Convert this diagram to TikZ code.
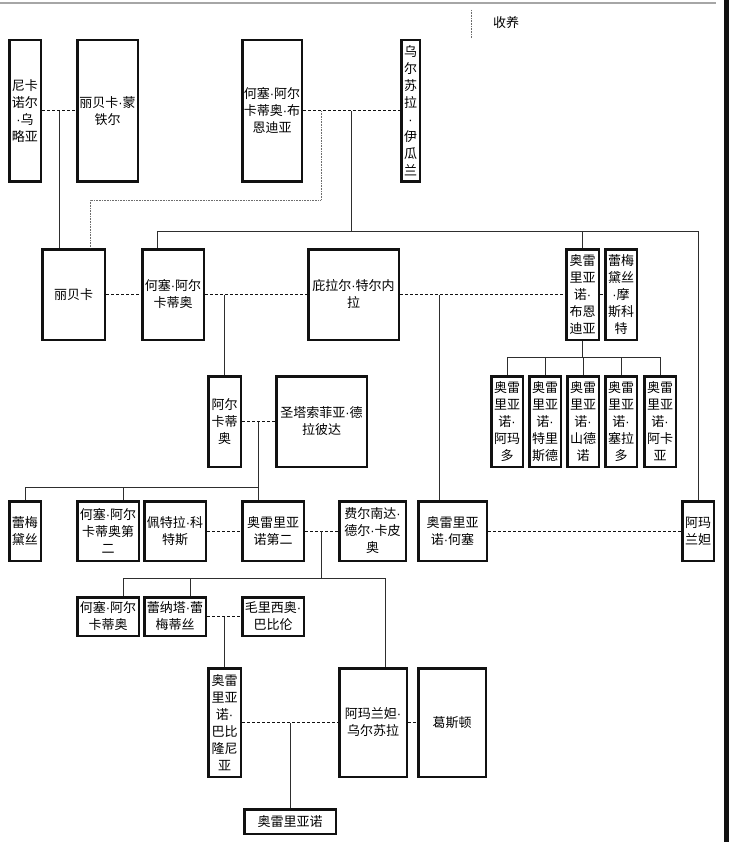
\documentclass[tikz,border=0pt]{standalone}
\usepackage{fontspec}
\newfontfamily\cjk{Noto Sans CJK SC}
\newfontfamily\dotfont{Liberation Sans}
\newcommand\ndot{{\dotfont ·}}
\usepackage{tikz}
\usetikzlibrary{positioning,calc}
\definecolor{ink}{HTML}{111111}
\definecolor{wire}{HTML}{2E2E2E}
\definecolor{rulegray}{HTML}{A6A6A6}
\tikzset{person/.style={draw=ink,line width=2.5pt,align=center,inner sep=0pt,font=\cjk\fontsize{13}{17}\selectfont},kin/.style={draw=wire,line width=1pt},wed/.style={draw=ink,line width=1pt,dash pattern=on 3pt off 2pt},adopt/.style={draw=wire!70,line width=0.9pt,dash pattern=on 0.8pt off 0.8pt},note/.style={font=\cjk\fontsize{13}{17}\selectfont,inner sep=0pt}}
\begin{document}
\begin{tikzpicture}[x=1pt,y=-1pt]
\useasboundingbox (0,0) rectangle (729,842);
\draw[rulegray,line width=1.2pt] (0,3) -- (716,3);
\fill[ink] (724,0) rectangle (729,842);
% legend
\node[note] (key) at (506,23) {收养};
\coordinate (keya) at (471,10);
\coordinate (keyb) at (471,38);
\draw[adopt] (keya) -- (keyb);
% first generation
\node[person,minimum width=31.5pt,minimum height=141.5pt] (nik) at (25,111) {尼卡\\诺尔\\\ndot 乌\\略亚};
\node[person,minimum width=60.5pt,minimum height=141.5pt,right=34pt of nik] (rebm) {丽贝卡\ndot 蒙\\铁尔};
\node[person,minimum width=59.5pt,minimum height=141.5pt] (jab) at (272,111) {何塞\ndot 阿尔\\卡蒂奥\ndot 布\\恩迪亚};
\node[person,minimum width=18.5pt,minimum height=141.5pt,right=97pt of jab] (urs) {乌\\尔\\苏\\拉\\\ndot\\伊\\瓜\\兰};
% second generation
\node[person,minimum width=62.5pt,minimum height=90.5pt] (reb) at (73.5,294.5) {丽贝卡};
\node[person,minimum width=61.5pt,minimum height=90.5pt,right=35pt of reb] (ja) {何塞\ndot 阿尔\\卡蒂奥};
\node[person,minimum width=90.5pt,minimum height=90.5pt] (pil) at (353.5,294.5) {庇拉尔\ndot 特尔内\\拉};
\node[person,minimum width=32.5pt,minimum height=90.5pt] (aur) at (582.5,294.5) {奥雷\\里亚\\诺\ndot\\布恩\\迪亚};
\node[person,minimum width=31.5pt,minimum height=90.5pt,right=4pt of aur] (rem) {蕾梅\\黛丝\\\ndot 摩\\斯科\\特};
% third generation
\node[person,minimum width=32.5pt,minimum height=90.5pt] (arc) at (224.5,421.5) {阿尔\\卡蒂\\奥};
\node[person,minimum width=90.5pt,minimum height=90.5pt,right=33pt of arc] (sta) {圣塔索菲亚\ndot 德\\拉彼达};
\node[person,minimum width=31.5pt,minimum height=90.5pt] (son1) at (507,421.5) {奥雷\\里亚\\诺\ndot\\阿玛\\多};
\node[person,minimum width=31.5pt,minimum height=90.5pt,right=4pt of son1] (son2) {奥雷\\里亚\\诺\ndot\\特里\\斯德};
\node[person,minimum width=31.5pt,minimum height=90.5pt,right=4pt of son2] (son3) {奥雷\\里亚\\诺\ndot\\山德\\诺};
\node[person,minimum width=31.5pt,minimum height=90.5pt,right=4pt of son3] (son4) {奥雷\\里亚\\诺\ndot\\塞拉\\多};
\node[person,minimum width=31.5pt,minimum height=90.5pt,right=5pt of son4] (son5) {奥雷\\里亚\\诺\ndot\\阿卡\\亚};
% fourth generation
\node[person,minimum width=31.5pt,minimum height=59.5pt] (rem2) at (25,531) {蕾梅\\黛丝};
\node[person,minimum width=61.5pt,minimum height=59.5pt] (jas2) at (108,531) {何塞\ndot 阿尔\\卡蒂奥第\\二};
\node[person,minimum width=61.5pt,minimum height=59.5pt,right=3pt of jas2] (pet) {佩特拉\ndot 科\\特斯};
\node[person,minimum width=61.5pt,minimum height=59.5pt] (aur2) at (273,531) {奥雷里亚\\诺第二};
\node[person,minimum width=66.5pt,minimum height=59.5pt,right=33pt of aur2] (fer) {费尔南达\ndot\\德尔\ndot 卡皮\\奥};
\node[person,minimum width=68.5pt,minimum height=59.5pt,right=10pt of fer] (aurj) {奥雷里亚\\诺\ndot 何塞};
\node[person,minimum width=31.5pt,minimum height=59.5pt] (ama) at (698,531) {阿玛\\兰妲};
% fifth generation
\node[person,minimum width=61.5pt,minimum height=38.5pt] (ja3) at (108,616.5) {何塞\ndot 阿尔\\卡蒂奥};
\node[person,minimum width=61.5pt,minimum height=38.5pt,right=3pt of ja3] (ren) {蕾纳塔\ndot 蕾\\梅蒂丝};
\node[person,minimum width=61.5pt,minimum height=38.5pt] (mau) at (273,616.5) {毛里西奥\ndot\\巴比伦};
% sixth generation
\node[person,minimum width=32.5pt,minimum height=108.5pt] (aurb) at (224.5,722.5) {奥雷\\里亚\\诺\ndot\\巴比\\隆尼\\亚};
\node[person,minimum width=67.5pt,minimum height=108.5pt] (amu) at (373,722.5) {阿玛兰妲\ndot\\乌尔苏拉};
\node[person,minimum width=67.5pt,minimum height=108.5pt,right=9pt of amu] (gas) {葛斯顿};
\node[person,minimum width=91.5pt,minimum height=24.5pt] (aurs) at (290,821.5) {奥雷里亚诺};
% couples
\draw[wed](nik)--(rebm);
\draw[wed](jab)--(urs);
\draw[wed](reb)--(ja);
\draw[wed](ja)--(pil);
\draw[wed](pil)--(aur);
\draw[wed](aur)--(rem);
\draw[wed](arc)--(sta);
\draw[wed](pet)--(aur2);
\draw[wed](aur2)--(fer);
\draw[wed](aurj)--(ama);
\draw[wed](ren)--(mau);
\draw[wed](aurb)--(amu);
\draw[wed](amu)--(gas);
% descent
\coordinate (m1) at ($(nik.east)!.5!(rebm.west)$);
\draw[kin](m1)--(m1 |- reb.north);
\coordinate (ad) at (321,200);
\draw[adopt](ad |- jab.east)--(ad)-|([xshift=16.5pt]reb.north);
\coordinate (m2) at ($(jab.east)!.5!(urs.west)$);
\coordinate (bus1) at (0,231);
\draw[kin](m2)--(m2 |- bus1);
\draw[kin]([xshift=-16pt]ja.north)|-(bus1 -| ama.north)--(ama.north);
\draw[kin](aur.north)--(aur.north |- bus1);
\draw[kin](arc.north)--(arc.north |- ja.east);
\draw[kin]([xshift=-13.5pt]aurj.north)--([xshift=-13.5pt]aurj.north |- pil.east);
\coordinate (bus2) at (0,357);
\draw[kin](aur.south)--(aur.south |- bus2);
\draw[kin](son1.north)|-(bus2 -| son5.north)--(son5.north);
\draw[kin](son2.north)--(son2.north |- bus2);
\draw[kin](son3.north)--(son3.north |- bus2);
\draw[kin](son4.north)--(son4.north |- bus2);
\coordinate (m3) at ($(arc.east)!.5!(sta.west)$);
\coordinate (bus3) at (0,487);
\draw[kin](m3)--(m3 |- aur2.north);
\draw[kin](rem2.north)|-(bus3 -| m3);
\draw[kin]([xshift=15pt]jas2.north)--([xshift=15pt]jas2.north |- bus3);
\coordinate (m4) at ($(aur2.east)!.5!(fer.west)$);
\coordinate (bus4) at (0,578);
\draw[kin](m4)--(m4 |- bus4);
\draw[kin]([xshift=15.5pt]ja3.north)|-([xshift=12pt]amu.north |- bus4)--([xshift=12pt]amu.north);
\draw[kin]([xshift=15.5pt]ren.north)--([xshift=15.5pt]ren.north |- bus4);
\coordinate (m5) at ($(ren.east)!.5!(mau.west)$);
\draw[kin](m5)--(m5 |- aurb.north);
\coordinate (m6) at ($(aurb.east)!.5!(amu.west)$);
\draw[kin](m6)--(aurs);
\end{tikzpicture}
\end{document}
